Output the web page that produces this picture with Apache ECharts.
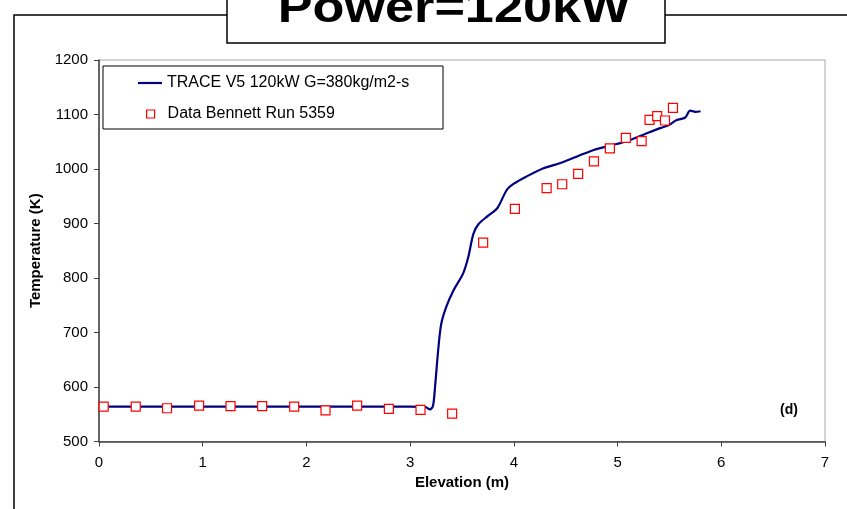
<!DOCTYPE html>
<html>
<head>
<meta charset="utf-8">
<script src="https://cdn.jsdelivr.net/npm/echarts@6/dist/echarts.min.js"></script>
<style>
html,body{margin:0;padding:0;background:#fff;}
#chart{width:847px;height:509px;}
</style>
</head>
<body>
<div id="chart"></div>
<script>
var titleText = 'Power=120kW';
var xAxisName = 'Elevation (m)';
var yAxisName = 'Temperature (K)';
var panelLabel = '(d)';
var lineName = 'TRACE V5 120kW G=380kg/m2-s';
var dataName = 'Data Bennett Run 5359';

// TRACE calculation: elevation (m)
var traceX = [0, 0.5, 1.0, 1.5, 2.0, 2.5, 3.0, 3.15, 3.19, 3.22, 3.24, 3.27, 3.30, 3.35, 3.42, 3.51, 3.56, 3.61, 3.66, 3.75, 3.84, 3.93, 4.0, 4.12, 4.28, 4.45, 4.61, 4.77, 4.93, 5.09, 5.25, 5.41, 5.50, 5.57, 5.65, 5.70, 5.75, 5.80];
// TRACE calculation: temperature (K)
var traceT = [564, 564, 564, 564, 564, 564, 564, 563, 559, 565, 600, 667, 716, 748, 778, 808, 838, 881, 899, 914, 928, 961, 973, 986, 1001, 1011, 1023, 1035, 1043, 1051, 1063, 1075, 1081, 1090, 1094, 1107, 1105, 1106];

// Bennett data: elevation (m)
var dataX = [0.045, 0.354, 0.656, 0.965, 1.268, 1.573, 1.882, 2.184, 2.489, 2.795, 3.10, 3.405, 3.704, 4.01, 4.316, 4.466, 4.62, 4.772, 4.926, 5.08, 5.232, 5.308, 5.382, 5.457, 5.534];
// Bennett data: temperature (K)
var dataT = [564, 564, 561, 566, 565, 565, 564, 557, 566, 560, 558, 551, 865, 927, 965, 972, 991, 1014, 1038, 1057, 1051, 1090, 1097, 1089, 1112];

var xTicks = [0, 1, 2, 3, 4, 5, 6, 7];
var yTicks = [500, 600, 700, 800, 900, 1000, 1100, 1200];

var FONT = '"Liberation Sans", Arial, sans-serif';

var linePts = traceX.map(function (x, i) { return [x, traceT[i]]; });
var dataPts = dataX.map(function (x, i) { return [x, dataT[i]]; });

var chart = echarts.init(document.getElementById('chart'), null, {renderer: 'canvas'});
chart.setOption({
  animation: false,
  backgroundColor: '#ffffff',
  textStyle: {fontFamily: FONT},
  grid: {left: 99, right: 22, top: 60, bottom: 67.5, show: true, borderColor: '#a8a8a8', borderWidth: 1, backgroundColor: 'transparent'},
  xAxis: {
    type: 'value', min: xTicks[0], max: xTicks[xTicks.length - 1], interval: 1,
    name: xAxisName, nameLocation: 'middle', nameGap: 30,
    nameTextStyle: {fontFamily: FONT, fontWeight: 'bold', fontSize: 15, color: '#000'},
    axisLine: {onZero: false, lineStyle: {color: '#404040', width: 1.5}},
    axisTick: {show: true, inside: false, length: 5, lineStyle: {color: '#404040', width: 1}},
    axisLabel: {fontFamily: FONT, fontSize: 15, color: '#000', margin: 14, formatter: function (v) { return String(v); }},
    splitLine: {show: false}
  },
  yAxis: {
    type: 'value', min: yTicks[0], max: yTicks[yTicks.length - 1], interval: 100,
    name: yAxisName, nameLocation: 'middle', nameGap: 53, nameRotate: 90,
    nameTextStyle: {fontFamily: FONT, fontWeight: 'bold', fontSize: 15, color: '#000'},
    axisLine: {show: true, onZero: false, lineStyle: {color: '#404040', width: 1.5}},
    axisTick: {show: true, inside: false, length: 5, lineStyle: {color: '#404040', width: 1}},
    axisLabel: {fontFamily: FONT, fontSize: 15, color: '#000', margin: 11, formatter: function (v) { return String(v); }},
    splitLine: {show: false}
  },
  legend: [
    {
      data: [{name: lineName, icon: 'rect', itemStyle: {color: '#000080', borderWidth: 0}}],
      left: 138, top: 75, orient: 'vertical', symbolKeepAspect: false,
      itemWidth: 24, itemHeight: 2.2, padding: 0,
      textStyle: {fontFamily: FONT, fontSize: 16, color: '#000', lineHeight: 16}
    },
    {
      data: [{name: dataName, icon: 'rect', itemStyle: {color: '#ffffff', borderColor: '#ff0000', borderWidth: 1.2}}],
      left: 146, top: 106, orient: 'vertical',
      itemWidth: 8, itemHeight: 8, padding: 0,
      textStyle: {fontFamily: FONT, fontSize: 16, color: '#000', lineHeight: 16, padding: [0, 0, 0, 8]}
    }
  ],
  graphic: [
    {type: 'rect', z: 0, silent: true, shape: {x: 14, y: 15, width: 900, height: 600}, style: {fill: 'none', stroke: '#000', lineWidth: 1.5}},
    {type: 'rect', z: 1, silent: true, shape: {x: 227, y: -5, width: 438, height: 48}, style: {fill: '#fff', stroke: '#000', lineWidth: 1.5}},
    {type: 'text', z: 2, silent: true, x: 454, y: 10, scaleX: 1.16, style: {text: titleText, fontFamily: FONT, fontWeight: 'bold', fontSize: 45, fill: '#000', align: 'center', verticalAlign: 'middle'}},
    {type: 'rect', z: 1, silent: true, shape: {x: 103, y: 66, width: 340, height: 63}, style: {fill: 'none', stroke: '#000', lineWidth: 1}},
    {type: 'text', z: 2, silent: true, x: 789, y: 410, style: {text: panelLabel, fontFamily: FONT, fontWeight: 'bold', fontSize: 14, fill: '#000', align: 'center', verticalAlign: 'middle'}}
  ],
  series: [
    {
      name: lineName, type: 'line', data: linePts, symbol: 'none', smooth: 0.3,
      lineStyle: {color: '#000080', width: 2.2}, itemStyle: {color: '#000080'}, z: 2
    },
    {
      name: dataName, type: 'scatter', data: dataPts, symbol: 'rect', symbolSize: 9,
      itemStyle: {color: '#ffffff', borderColor: '#ff0000', borderWidth: 1.2, opacity: 1}, z: 3
    }
  ]
});
</script>
</body>
</html>
